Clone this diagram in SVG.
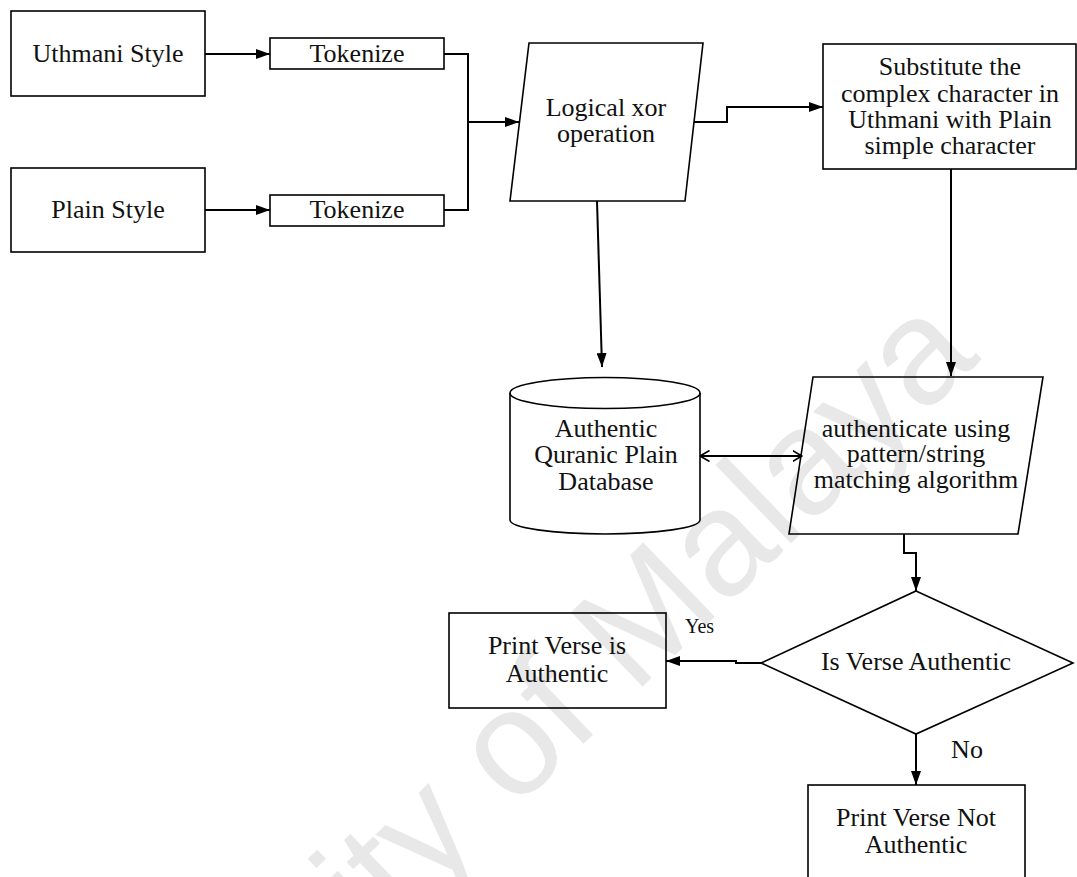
<svg xmlns="http://www.w3.org/2000/svg" width="1077" height="877" viewBox="0 0 1077 877">
  <defs>
    <marker id="arrow" viewBox="0 0 14 10" refX="14" refY="5" markerWidth="14" markerHeight="10" markerUnits="userSpaceOnUse" orient="auto">
      <path d="M0,0 L14,5 L0,10 z" fill="#000"/>
    </marker>
    <marker id="open" viewBox="0 0 10 12" refX="9.5" refY="6" markerWidth="10" markerHeight="12" markerUnits="userSpaceOnUse" orient="auto-start-reverse">
      <path d="M0,0.5 L9.5,6 L0,11.5" fill="none" stroke="#000" stroke-width="1.6"/>
    </marker>
    <style>
      .shape { fill: none; stroke: #000; stroke-width: 1.6; }
      .conn { fill: none; stroke: #000; stroke-width: 2; }
      .lbl { font-family: "Liberation Serif", "Times New Roman", serif; font-size: 26px; fill: #111; text-anchor: middle; }
      .small { font-size: 20px; text-anchor: start; }
      .wm { font-family: "Liberation Sans", Arial, sans-serif; font-size: 150px; fill: #e8e8e8; }
    </style>
  </defs>

  <rect width="1077" height="877" fill="#fff"/>

  <!-- watermark -->
  <text class="wm" transform="translate(376,944) rotate(-44)">ity of Malaya</text>

  <g id="uthmani">
    <rect class="shape" x="11" y="11" width="194" height="85"/>
    <text class="lbl" x="108" y="62">Uthmani Style</text>
  </g>
  <g id="plain">
    <rect class="shape" x="11" y="168" width="194" height="84"/>
    <text class="lbl" x="108" y="218">Plain Style</text>
  </g>
  <g id="tokenize1">
    <rect class="shape" x="270" y="38" width="174" height="31"/>
    <text class="lbl" x="357" y="62">Tokenize</text>
  </g>
  <g id="tokenize2">
    <rect class="shape" x="270" y="195" width="174" height="31"/>
    <text class="lbl" x="357" y="218">Tokenize</text>
  </g>
  <g id="xor">
    <polygon class="shape" points="529,43 703,43 685,201 510,201"/>
    <text class="lbl" x="606" y="116">Logical xor</text>
    <text class="lbl" x="606" y="142">operation</text>
  </g>
  <g id="substitute">
    <rect class="shape" x="823" y="44" width="253" height="125"/>
    <text class="lbl" x="950" y="75">Substitute the</text>
    <text class="lbl" x="950" y="102">complex character in</text>
    <text class="lbl" x="950" y="128">Uthmani with Plain</text>
    <text class="lbl" x="950" y="154">simple character</text>
  </g>
  <g id="database">
    <path class="shape" d="M510,393 V520 A95,14 0 0 0 700,520 V393"/>
    <ellipse class="shape" cx="605" cy="393" rx="95" ry="15.5"/>
    <text class="lbl" x="606" y="437">Authentic</text>
    <text class="lbl" x="606" y="463">Quranic Plain</text>
    <text class="lbl" x="606" y="490">Database</text>
  </g>
  <g id="authenticate">
    <polygon class="shape" points="813,377 1043,377 1018,534 789,534"/>
    <text class="lbl" x="916" y="437">authenticate using</text>
    <text class="lbl" x="916" y="462">pattern/string</text>
    <text class="lbl" x="916" y="488">matching algorithm</text>
  </g>
  <g id="decision">
    <polygon class="shape" points="916,591 1073,663 916,734 761,663"/>
    <text class="lbl" x="916" y="670">Is Verse Authentic</text>
  </g>
  <g id="print-yes">
    <rect class="shape" x="449" y="613" width="217" height="95"/>
    <text class="lbl" x="557" y="654">Print Verse is</text>
    <text class="lbl" x="557" y="682">Authentic</text>
  </g>
  <g id="print-no">
    <rect class="shape" x="808" y="785" width="217" height="110"/>
    <text class="lbl" x="916" y="826">Print Verse Not</text>
    <text class="lbl" x="916" y="853">Authentic</text>
  </g>

  <g id="connectors">
    <path class="conn" d="M205,54 H270" marker-end="url(#arrow)"/>
    <path class="conn" d="M205,210 H270" marker-end="url(#arrow)"/>
    <path class="conn" d="M444,54 H468 V210 H444"/>
    <path class="conn" d="M468,122 H519" marker-end="url(#arrow)"/>
    <path class="conn" d="M694,122 H727 V107 H823" marker-end="url(#arrow)"/>
    <path class="conn" d="M597,201 L602,367" marker-end="url(#arrow)"/>
    <path class="conn" d="M951,169 V376" marker-end="url(#arrow)"/>
    <path class="conn" d="M700,456 H802" marker-start="url(#open)" marker-end="url(#open)"/>
    <path class="conn" d="M904,534 V553 H916 V591" marker-end="url(#arrow)"/>
    <path class="conn" d="M761,663 H736 V661 H666" marker-end="url(#arrow)"/>
    <path class="conn" d="M916,734 V785" marker-end="url(#arrow)"/>
    <text class="lbl small" x="685" y="633">Yes</text>
    <text class="lbl" x="967" y="758">No</text>
  </g>
</svg>
